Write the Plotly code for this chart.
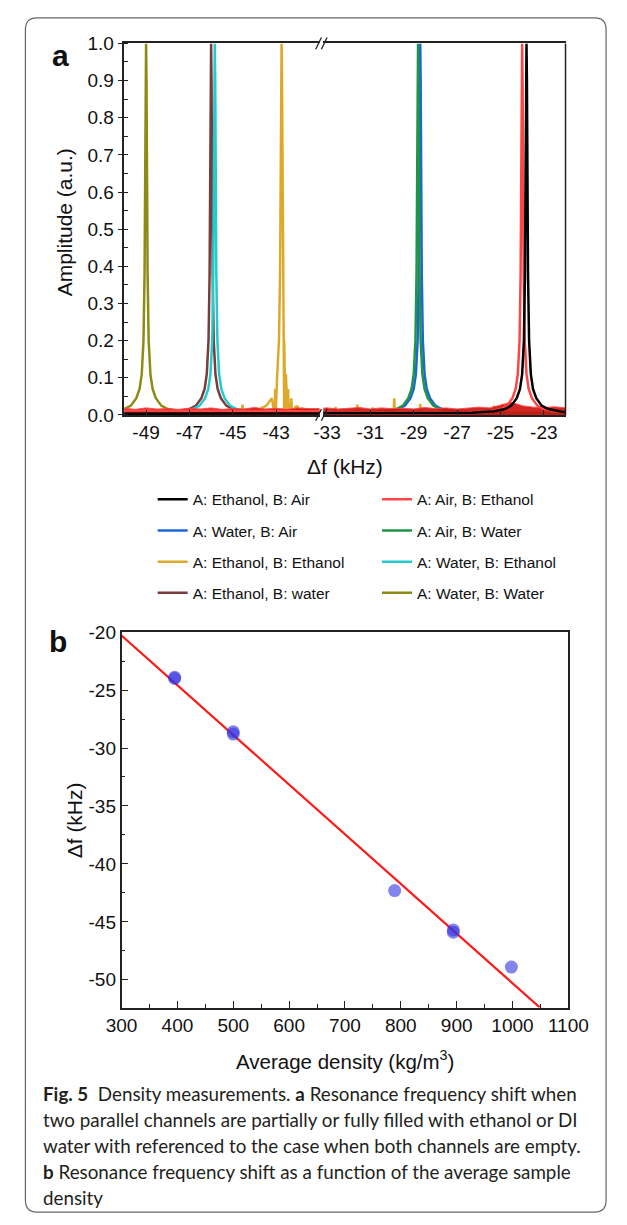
import plotly.graph_objects as go

# ---- panel a data ----
series_names = ["A: Ethanol, B: Air", "A: Water, B: Air", "A: Ethanol, B: Ethanol", "A: Ethanol, B: water",
                "A: Air, B: Ethanol", "A: Air, B: Water", "A: Water, B: Ethanol", "A: Water, B: Water"]
series_colors = ["#000000", "#1e64dc", "#dcaa28", "#783c3c",
                 "#ff4646", "#1e9646", "#22cccc", "#8c8c14"]
peak_center = [-23.8, -28.7, -42.75, -46.0, -24.0, -28.8, -45.83, -49.0]
base_level = [0.003, 0.004, 0.005, 0.003, 0.012, 0.004, 0.004, 0.004]

# shape of one resonance peak: offset from centre (kHz) and amplitude
profile_off = [-2.5, -1.5, -1.0, -0.7, -0.45, -0.3, -0.2, -0.12, -0.07, -0.04, -0.02, 0.0,
               0.02, 0.04, 0.07, 0.12, 0.2, 0.3, 0.45, 0.7, 1.0, 1.5, 2.5]
profile_amp = [0.006, 0.01, 0.016, 0.025, 0.045, 0.07, 0.11, 0.2, 0.38, 0.65, 0.9, 1.0,
               0.9, 0.65, 0.38, 0.2, 0.11, 0.07, 0.045, 0.025, 0.016, 0.01, 0.006]

# noise spikes of the ethanol/ethanol trace
gold_spike_x = [-44.55, -43.05, -42.6, -42.45, -42.3, -42.1, -41.8,
                -32.6, -31.6, -30.9, -29.9, -28.7, -25.3, -24.9, -23.0]
gold_spike_y = [0.028, 0.035, 0.065, 0.05, 0.035, 0.025, 0.02,
                0.022, 0.028, 0.02, 0.045, 0.03, 0.025, 0.03, 0.02]

# noisy floor of the air/ethanol trace
red_floor_x = [-50.5, -50.0, -49.5, -49.0, -48.5, -48.0, -47.5, -47.0, -46.5, -46.0, -45.5,
               -45.0, -44.5, -44.0, -43.5, -43.0, -42.5, -42.0, -41.5, -41.0, -40.5,
               -33.5, -33.0, -32.5, -32.0, -31.5, -31.0, -30.5, -30.0, -29.5, -29.0, -28.5,
               -28.0, -27.5, -27.0, -26.5, -26.0, -25.5, -25.0, -24.5, -24.0, -23.5, -23.0,
               -22.5, -22.0, -21.5]
red_floor_y = [0.016, 0.018, 0.015, 0.019, 0.016, 0.017, 0.015, 0.018, 0.016, 0.019, 0.015,
               0.017, 0.016, 0.020, 0.016, 0.018, 0.015, 0.019, 0.017, 0.016, 0.018,
               0.017, 0.019, 0.016, 0.018, 0.020, 0.016, 0.019, 0.017, 0.018, 0.016, 0.020,
               0.017, 0.019, 0.016, 0.018, 0.021, 0.019, 0.026, 0.034, 0.025, 0.021, 0.020,
               0.022, 0.019, 0.018]

# ---- panel b data ----
density = [395, 395, 500, 500, 789, 894, 894, 998]
shift = [-23.9, -24.0, -28.6, -28.8, -42.3, -45.7, -45.9, -48.9]
fit_x = [300, 1049]
fit_y = [-20.3, -52.4]

W, H = 627, 1225
FONT = "Liberation Sans, Arial, sans-serif"


def px(x):
    return x / W


def py(y):
    return 1 - y / H


def series_xy(i):
    pts = [(-50.5, base_level[i]), (-21.5, base_level[i])]
    pts += [(peak_center[i] + o, a) for o, a in zip(profile_off, profile_amp)]
    if i == 2:
        for sx, sy in zip(gold_spike_x, gold_spike_y):
            pts += [(sx - 0.03, base_level[i]), (sx, sy), (sx + 0.03, base_level[i])]
    pts.sort()
    return [p[0] for p in pts], [p[1] for p in pts]


fig = go.Figure()

draw_order = [2, 7, 3, 6, 1, 5, "floor", 4, 0]
for i in draw_order:
    if i == "floor":
        for xa in ["x", "x2"]:
            fig.add_trace(go.Scatter(x=red_floor_x, y=red_floor_y, xaxis=xa, yaxis="y",
                                     mode="lines", line=dict(width=1, color="rgba(255,70,70,0.9)"),
                                     fill="tozeroy", fillcolor="rgba(205,20,15,0.92)",
                                     showlegend=False, hoverinfo="skip"))
        continue
    xs, ys = series_xy(i)
    for k, xa in enumerate(["x", "x2"]):
        fig.add_trace(go.Scatter(
            x=xs, y=ys, xaxis=xa, yaxis="y", mode="lines",
            name=series_names[i], legendgroup=series_names[i],
            legend="legend" if i < 4 else "legend2",
            legendrank=i % 4 + 1,
            showlegend=(k == 0),
            line=dict(color=series_colors[i], width=2.5),
        ))

# panel b
fig.add_trace(go.Scatter(x=fit_x, y=fit_y, xaxis="x3", yaxis="y2", mode="lines",
                         line=dict(color="#ff1a1a", width=2.2), showlegend=False))
fig.add_trace(go.Scatter(x=density, y=shift, xaxis="x3", yaxis="y2", mode="markers",
                         marker=dict(color="rgba(50,50,225,0.6)", size=13), showlegend=False))

axis_common = dict(showline=True, linecolor="#222", linewidth=1.5, showgrid=False, zeroline=False,
                   tickfont=dict(family=FONT, size=19, color="#111"), mirror=True)

left_ticks = [-49, -47, -45, -43]
right_ticks = [-33, -31, -29, -27, -25, -23]
amp_ticks = [0.0, 0.1, 0.2, 0.3, 0.4, 0.5, 0.6, 0.7, 0.8, 0.9, 1.0]
dens_ticks = [300, 400, 500, 600, 700, 800, 900, 1000, 1100]
shift_ticks = [-20, -25, -30, -35, -40, -45, -50]

fig.update_layout(
    width=W, height=H, margin=dict(l=0, r=0, t=0, b=0),
    paper_bgcolor="white", plot_bgcolor="white",
    font=dict(family=FONT, color="#111"),
    xaxis=dict(axis_common, domain=[px(115), px(322)], range=[-50, -41], anchor="y",
               tickvals=left_ticks, ticktext=[str(t) for t in left_ticks],
               ticks="inside", ticklen=5, tickcolor="#222"),
    xaxis2=dict(axis_common, domain=[px(326), px(583)], range=[-33.17, -22], anchor="y",
                tickvals=right_ticks, ticktext=[str(t) for t in right_ticks],
                ticks="inside", ticklen=5, tickcolor="#222"),
    yaxis=dict(axis_common, mirror=False, domain=[py(412), py(34)], range=[0, 1], anchor="x",
               tickvals=amp_ticks, ticktext=["%.1f" % t for t in amp_ticks],
               ticks="outside", ticklen=5, tickcolor="#222",
               minor=dict(ticks="inside", ticklen=4, dtick=0.05, tickcolor="#222")),
    xaxis3=dict(axis_common, domain=[px(112), px(586)], range=[300, 1100], anchor="y2",
                tickvals=dens_ticks, ticktext=[str(t) for t in dens_ticks],
                ticks="inside", ticklen=7, tickcolor="#222",
                minor=dict(ticks="inside", ticklen=4, dtick=50, tickcolor="#222")),
    yaxis2=dict(axis_common, domain=[py(1015), py(633)], range=[-52.4, -20], anchor="x3",
                tickvals=shift_ticks, ticktext=[str(t) for t in shift_ticks],
                ticks="inside", ticklen=7, tickcolor="#222",
                minor=dict(ticks="inside", ticklen=4, dtick=2.5, tickcolor="#222")),
    legend=dict(x=px(145), y=py(481), xanchor="left", yanchor="top", tracegroupgap=8,
                font=dict(family=FONT, size=15.5, color="#111"), bgcolor="rgba(0,0,0,0)",
                itemclick=False, itemdoubleclick=False),
    legend2=dict(x=px(383), y=py(481), xanchor="left", yanchor="top", tracegroupgap=8,
                 font=dict(family=FONT, size=15.5, color="#111"), bgcolor="rgba(0,0,0,0)",
                 itemclick=False, itemdoubleclick=False),
)

shapes = []
# right border of panel a
shapes.append(dict(type="line", xref="paper", yref="paper", x0=px(583), x1=px(583),
                   y0=py(412), y1=py(34), line=dict(color="#222", width=1.5)))
# axis break marks
for yb in [34, 412]:
    for xb in [321, 327]:
        shapes.append(dict(type="line", xref="paper", yref="paper",
                           x0=px(xb - 3), y0=py(yb + 6), x1=px(xb + 3), y1=py(yb - 6),
                           line=dict(color="#222", width=1.3)))
# rounded outer frame
L, T, R, B, r = 10, 8, 626, 1223, 12
path = (f"M {px(L)},{py(T + r)} Q {px(L)},{py(T)} {px(L + r)},{py(T)} "
        f"L {px(R - r)},{py(T)} Q {px(R)},{py(T)} {px(R)},{py(T + r)} "
        f"L {px(R)},{py(B - r)} Q {px(R)},{py(B)} {px(R - r)},{py(B)} "
        f"L {px(L + r)},{py(B)} Q {px(L)},{py(B)} {px(L)},{py(B - r)} Z")
shapes.append(dict(type="path", xref="paper", yref="paper", path=path,
                   line=dict(color="#666", width=1.2)))
fig.update_layout(shapes=shapes)

ann = []


def label(text, x, y, size, angle=0, xanchor="center", family=FONT, color="#111"):
    ann.append(dict(text=text, x=px(x), y=py(y), xref="paper", yref="paper", showarrow=False,
                    xanchor=xanchor, yanchor="middle", textangle=angle,
                    font=dict(family=family, size=size, color=color)))


label("<b>a</b>", 47, 46, 30)
label("<b>b</b>", 45, 643, 30)
label("Amplitude (a.u.)", 51, 216, 21, angle=-90)
label("Δf (kHz)", 349, 464, 21)
label("Δf (kHz)", 62, 824, 21, angle=-90)
label("Average density (kg/m<sup>3</sup>)", 349, 1068, 20.5)

caption = [
    "<b>Fig. 5</b>  Density measurements. <b>a</b> Resonance frequency shift when",
    "two parallel channels are partially or fully filled with ethanol or DI",
    "water with referenced to the case when both channels are empty.",
    "<b>b</b> Resonance frequency shift as a function of the average sample",
    "density",
]
for n, line in enumerate(caption):
    label(line, 26, 1102 + n * 26.6, 18.8, xanchor="left", family="Lato, sans-serif", color="#231f20")

fig.update_layout(annotations=ann)

fig.write_html("out.html", config={"displayModeBar": False},
               post_script="document.body.style.margin='0';document.body.style.overflow='hidden';")
